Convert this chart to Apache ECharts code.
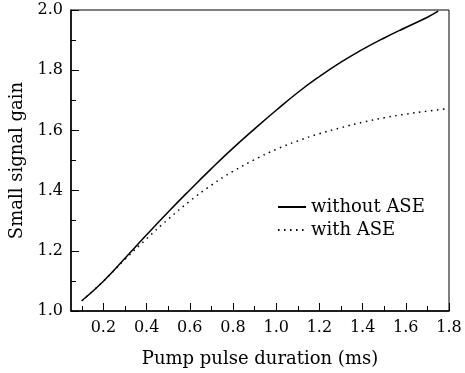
<!DOCTYPE html>
<html>
<head>
<meta charset="utf-8">
<script src="https://cdn.jsdelivr.net/npm/echarts@6/dist/echarts.min.js"></script>
<style>
  html, body { margin: 0; padding: 0; background: #fff; }
  #chart { width: 465px; height: 373px; }
</style>
</head>
<body>
<div id="chart"></div>
<script>
// pulse durations (ms)
var durations = [0.1, 0.2, 0.3, 0.4, 0.5, 0.6, 0.7, 0.8, 0.9, 1.0, 1.1, 1.2, 1.3, 1.4, 1.5, 1.6, 1.7, 1.75];
var gainNoASE = [1.034, 1.099, 1.175, 1.253, 1.329, 1.402, 1.473, 1.541, 1.605, 1.667, 1.726, 1.779, 1.827, 1.869, 1.907, 1.942, 1.976, 1.996];
var durationsASE = [0.1, 0.2, 0.3, 0.4, 0.5, 0.6, 0.7, 0.8, 0.9, 1.0, 1.1, 1.2, 1.3, 1.4, 1.5, 1.6, 1.7, 1.78];
var gainASE = [1.034, 1.099, 1.172, 1.240, 1.305, 1.365, 1.418, 1.464, 1.503, 1.537, 1.565, 1.589, 1.609, 1.627, 1.642, 1.654, 1.664, 1.671];
var xLabels = [0.2, 0.4, 0.6, 0.8, 1.0, 1.2, 1.4, 1.6, 1.8];
var xMinor = [0.1, 0.3, 0.5, 0.7, 0.9, 1.1, 1.3, 1.5, 1.7];
var seriesNames = ['without ASE', 'with ASE'];

var chart = echarts.init(document.getElementById('chart'));
var font = 'DejaVu Serif';

function pairs(xs, ys) {
    var out = [];
    for (var i = 0; i < xs.length; i++) out.push([xs[i], ys[i]]);
    return out;
}

var opt = {
    animation: false,
    grid: {
        left: 71, right: 16, top: 10, bottom: 61,
        show: true, borderColor: '#000', borderWidth: 1
    },
    legend: {
        orient: 'vertical',
        left: 272, top: 193,
        itemWidth: 28, itemHeight: 10, itemGap: 5,
        textStyle: { fontFamily: font, fontSize: 18, color: '#000' },
        itemStyle: { opacity: 0 },
        data: seriesNames
    },
    xAxis: [{
        type: 'value', min: 0.05, max: 1.8,
        name: 'Pump pulse duration (ms)',
        nameLocation: 'middle', nameGap: 39,
        nameTextStyle: { fontFamily: font, fontSize: 18, color: '#000' },
        axisLine: { lineStyle: { color: '#000', width: 1.5 } },
        axisTick: { inside: true, length: 8, customValues: xLabels, lineStyle: { color: '#000' } },
        axisLabel: { customValues: xLabels, fontFamily: font, fontSize: 16, color: '#000', margin: 9,
            formatter: function (v) { return v.toFixed(1); } },
        splitLine: { show: false }
    }, {
        type: 'value', min: 0.05, max: 1.8, position: 'bottom',
        axisLine: { show: false },
        axisTick: { inside: true, length: 5, customValues: xMinor, lineStyle: { color: '#000' } },
        axisLabel: { show: false },
        splitLine: { show: false }
    }],
    yAxis: {
        type: 'value', min: 1.0, max: 2.0, interval: 0.2,
        name: 'Small signal gain',
        nameLocation: 'middle', nameGap: 35,
        nameTextStyle: { fontFamily: font, fontSize: 18, color: '#000' },
        axisLine: { show: true, lineStyle: { color: '#000', width: 1.5 } },
        axisTick: { inside: true, length: 8, lineStyle: { color: '#000' } },
        minorTick: { show: true, splitNumber: 2, length: 5, lineStyle: { color: '#000' } },
        axisLabel: { fontFamily: font, fontSize: 16, color: '#000', margin: 8,
            formatter: function (v) { return v.toFixed(1); } },
        splitLine: { show: false }
    },
    series: [{
        name: seriesNames[0], type: 'line', smooth: true, symbol: 'none',
        lineStyle: { color: '#000', width: 1.5 },
        itemStyle: { color: '#000' },
        data: pairs(durations, gainNoASE)
    }, {
        name: seriesNames[1], type: 'line', smooth: true, symbol: 'none',
        lineStyle: { color: '#000', width: 1.5, type: [1.5, 4.5] },
        itemStyle: { color: '#000' },
        data: pairs(durationsASE, gainASE)
    }]
};
chart.setOption(opt);
</script>
</body>
</html>
